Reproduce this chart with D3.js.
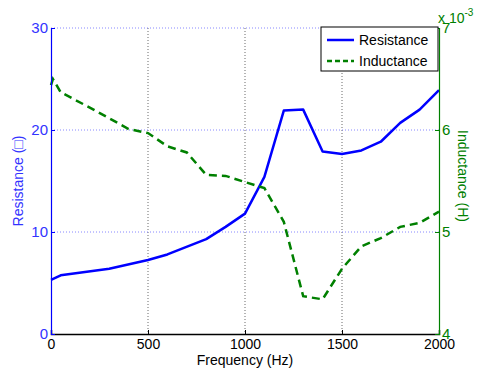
<!DOCTYPE html>
<html>
<head>
<meta charset="utf-8">
<script src="https://cdn.jsdelivr.net/npm/d3@7"></script>
<style>
  body { margin: 0; background: #fff; }
  text { font-family: "Liberation Sans", Arial, sans-serif; }
</style>
</head>
<body>
<svg id="chart" width="477" height="373"></svg>
<script>
const width = 477;
const height = 373;
const margin = { top: 28, right: 38, bottom: 39, left: 51 };

// values
const freqR = [0, 50, 300, 500, 600, 800, 900, 1000, 1100, 1200, 1300, 1400, 1500, 1600, 1700, 1800, 1900, 2000];
const resistance = [5.3, 5.75, 6.4, 7.25, 7.8, 9.3, 10.5, 11.8, 15.4, 21.9, 22.0, 17.9, 17.65, 18.0, 18.85, 20.7, 22.0, 23.9];
const freqL = [0, 10, 50, 200, 400, 500, 600, 700, 800, 900, 1000, 1100, 1200, 1300, 1400, 1500, 1600, 1700, 1800, 1900, 2000];
const inductance = [6.44, 6.5, 6.37, 6.22, 6.01, 5.97, 5.84, 5.78, 5.56, 5.55, 5.49, 5.43, 5.1, 4.37, 4.34, 4.64, 4.86, 4.94, 5.05, 5.09, 5.2]; // x 1e-3 H
const xTicks = [0, 500, 1000, 1500, 2000];
const rTicks = [0, 10, 20, 30];
const lTicks = [4, 5, 6, 7];

const blue = "#0000ff";
const green = "#008000";

const svg = d3.select("#chart");
const x = d3.scaleLinear().domain([0, 2000]).range([margin.left, width - margin.right]);
const yR = d3.scaleLinear().domain([0, 30]).range([height - margin.bottom, margin.top]);
const yL = d3.scaleLinear().domain([4, 7]).range([height - margin.bottom, margin.top]);

// grid lines
svg.append("g")
  .selectAll("line").data(xTicks.slice(1, -1)).join("line")
  .attr("x1", d => x(d)).attr("x2", d => x(d))
  .attr("y1", margin.top).attr("y2", height - margin.bottom)
  .attr("stroke", "#444").attr("stroke-width", 0.8).attr("stroke-dasharray", "1,2");

svg.append("g")
  .selectAll("line").data(rTicks.slice(1)).join("line")
  .attr("x1", margin.left).attr("x2", width - margin.right)
  .attr("y1", d => yR(d)).attr("y2", d => yR(d))
  .attr("stroke", "#6a6aff").attr("stroke-width", 0.8).attr("stroke-dasharray", "1,2");

// lines
const lineR = d3.line().x((d, i) => x(freqR[i])).y(d => yR(d));
const lineL = d3.line().x((d, i) => x(freqL[i])).y(d => yL(d));

svg.append("path").datum(resistance)
  .attr("d", lineR).attr("fill", "none")
  .attr("stroke", blue).attr("stroke-width", 2.5).attr("stroke-linejoin", "round");

svg.append("path").datum(inductance)
  .attr("d", lineL).attr("fill", "none")
  .attr("stroke", green).attr("stroke-width", 2.5).attr("stroke-dasharray", "8,5");

// axes
const xAxis = svg.append("g")
  .attr("transform", `translate(0,${height - margin.bottom})`)
  .call(d3.axisBottom(x).tickValues(xTicks).tickFormat(d3.format("d")).tickSize(-4).tickPadding(5));
xAxis.select(".domain").attr("stroke", "#000").attr("stroke-width", 1.5);
xAxis.selectAll("text").attr("font-size", 14).attr("fill", "#000");
xAxis.selectAll(".tick line").attr("stroke", "#000");

const yAxisR = svg.append("g")
  .attr("transform", `translate(${margin.left},0)`)
  .call(d3.axisLeft(yR).tickValues(rTicks).tickSize(-4).tickPadding(3));
yAxisR.select(".domain").attr("stroke", blue).attr("stroke-width", 1.2);
yAxisR.selectAll("text").attr("font-size", 15).attr("fill", "#3333ff");
yAxisR.selectAll(".tick line").attr("stroke", blue);

const yAxisL = svg.append("g")
  .attr("transform", `translate(${width - margin.right},0)`)
  .call(d3.axisRight(yL).tickValues(lTicks).tickFormat(d3.format("d")).tickSize(-4).tickPadding(3));
yAxisL.select(".domain").attr("stroke", green).attr("stroke-width", 1.2);
yAxisL.selectAll("text").attr("font-size", 15).attr("fill", green);
yAxisL.selectAll(".tick line").attr("stroke", green);

// labels
svg.append("text").attr("x", x(1000)).attr("y", 365)
  .attr("text-anchor", "middle").attr("font-size", 14).text("Frequency (Hz)");

svg.append("text")
  .attr("transform", `translate(23,${yR(15)}) rotate(-90)`)
  .attr("text-anchor", "middle").attr("font-size", 14).attr("fill", "#3333ff")
  .text("Resistance (\u25A1)");

svg.append("text")
  .attr("transform", `translate(458,${yL(5.5) - 5}) rotate(90)`)
  .attr("text-anchor", "middle").attr("font-size", 14).attr("fill", green)
  .text("Inductance (H)");

const expo = svg.append("text").attr("x", 438).attr("y", 23)
  .attr("font-size", 14).attr("fill", green);
expo.append("tspan").text("x 10");
expo.append("tspan").attr("dy", -7).attr("font-size", 10).text("-3");

// legend
const legend = svg.append("g").attr("transform", "translate(321,27)");
legend.append("rect").attr("width", 117).attr("height", 44)
  .attr("fill", "#fff").attr("stroke", "#000").attr("stroke-width", 1);
const items = [
  { name: "Resistance", color: blue, dash: null },
  { name: "Inductance", color: green, dash: "5,3" }
];
items.forEach((it, i) => {
  const yy = 13 + i * 21;
  legend.append("line").attr("x1", 6).attr("x2", 33).attr("y1", yy).attr("y2", yy)
    .attr("stroke", it.color).attr("stroke-width", 2.5).attr("stroke-dasharray", it.dash);
  legend.append("text").attr("x", 38).attr("y", yy + 5)
    .attr("font-size", 14).text(it.name);
});
</script>
</body>
</html>
